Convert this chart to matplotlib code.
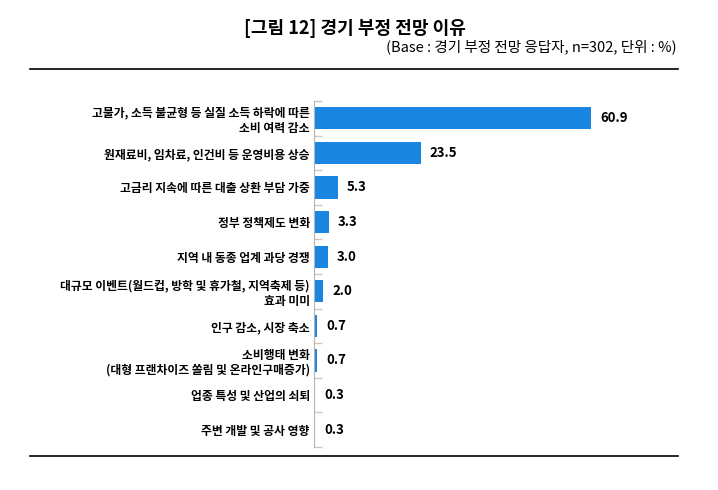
import matplotlib
matplotlib.use('Agg')
import matplotlib.pyplot as plt
from matplotlib.lines import Line2D
import numpy as np

plt.rcParams['font.family'] = ['Noto Sans CJK KR', 'DejaVu Sans']

# Données
categories = [
    '고물가, 소득 불균형 등 실질 소득 하락에 따른\n소비 여력 감소',
    '원재료비, 임차료, 인건비 등 운영비용 상승',
    '고금리 지속에 따른 대출 상환 부담 가중',
    '정부 정책제도 변화',
    '지역 내 동종 업계 과당 경쟁',
    '대규모 이벤트(월드컵, 방학 및 휴가철, 지역축제 등)\n효과 미미',
    '인구 감소, 시장 축소',
    '소비행태 변화\n(대형 프랜차이즈 쏠림 및 온라인구매증가)',
    '업종 특성 및 산업의 쇠퇴',
    '주변 개발 및 공사 영향',
]
values = [60.9, 23.5, 5.3, 3.3, 3.0, 2.0, 0.7, 0.7, 0.3, 0.3]
title = '[그림 12] 경기 부정 전망 이유'
subtitle = '(Base : 경기 부정 전망 응답자, n=302, 단위 : %)'

W, H = 718, 490
fig = plt.figure(figsize=(W / 100, H / 100), dpi=100)

# zone du graphique (en pixels de l'image de référence)
ax_left, ax_right, ax_top, ax_bottom = 314, 680, 101, 447
ax = fig.add_axes([ax_left / W, 1 - ax_bottom / H,
                   (ax_right - ax_left) / W, (ax_bottom - ax_top) / H])

y = np.arange(len(categories))
bars = ax.barh(y, values, height=0.64, color='#1a86e2')

ax.set_xlim(0, (ax_right - ax_left) / 4.55)
ax.set_ylim(len(categories) - 0.5, -0.5)

# étiquettes de valeur, un peu décalées de la barre
for b, v in zip(bars, values):
    ax.annotate(f'{v:.1f}', (b.get_width(), b.get_y() + b.get_height() / 2),
                xytext=(9, 0), textcoords='offset pixels',
                va='center', ha='left', fontsize=9.5, fontweight='bold')

ax.set_yticks(y)
ax.set_yticklabels(categories, fontsize=8.5, fontweight='bold')
ax.tick_params(axis='y', which='major', length=0, pad=3)
ax.set_yticks(np.arange(len(categories) + 1) - 0.5, minor=True)
ax.tick_params(axis='y', which='minor', direction='in', length=6,
               color='#c8c8c8', width=1)
ax.set_xticks([])

for s in ['top', 'right', 'bottom']:
    ax.spines[s].set_visible(False)
ax.spines['left'].set_color('#b4b4b4')

# titre et sous-titre
fig.text(355 / W, 1 - 29 / H, title, ha='center', va='center',
         fontsize=13, fontweight='bold')
fig.text(677 / W, 1 - 47 / H, subtitle, ha='right', va='center', fontsize=10.5)

# lignes horizontales
for py in (69, 456):
    fig.add_artist(Line2D([30 / W, 678 / W], [1 - py / H, 1 - py / H],
                          color='black', linewidth=1.2))

plt.savefig('out.png', dpi=100)
